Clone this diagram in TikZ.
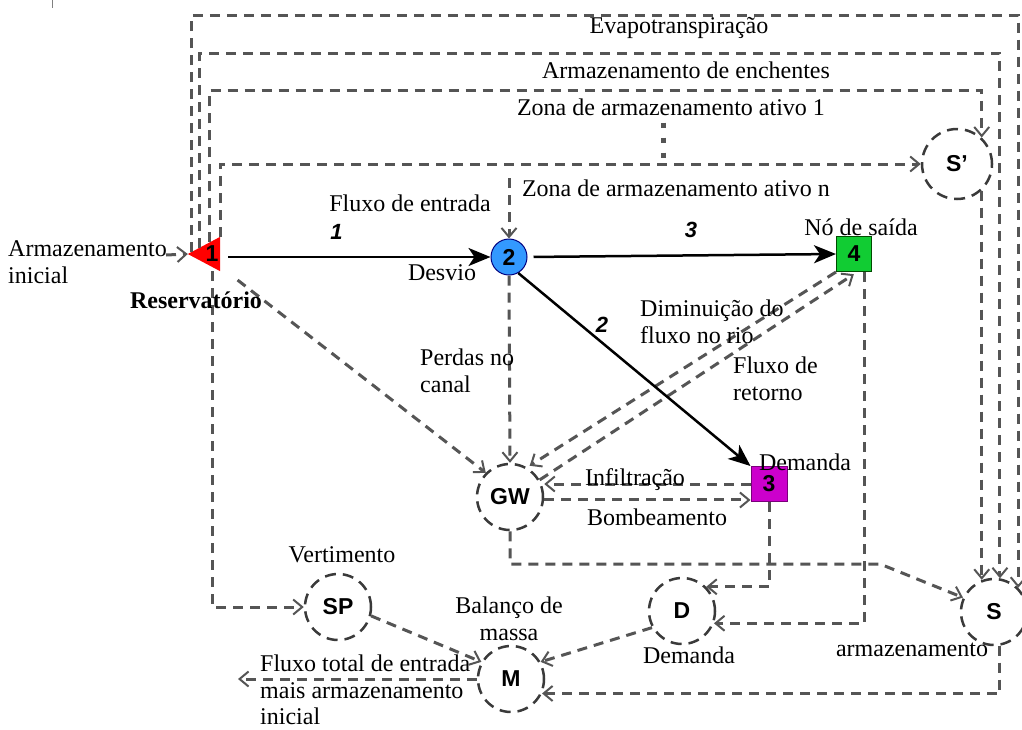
\documentclass[tikz,border=0pt]{standalone}
\usepackage{fontspec}
\setmainfont{Liberation Serif}
\setsansfont{Liberation Sans}
\usetikzlibrary{arrows.meta,calc}
\definecolor{dgray}{HTML}{555555}
\definecolor{cgray}{HTML}{3A3A3A}
\definecolor{nblue}{HTML}{3399FF}
\definecolor{ngreen}{HTML}{11CC33}
\definecolor{nmag}{HTML}{CC00CC}
\definecolor{nred}{HTML}{FF0000}
\begin{document}
\begin{tikzpicture}[x=1pt,y=-1pt,
 txt/.style={font=\fontsize{24}{26.5}\selectfont, inner sep=0pt, text=black},
 elab/.style={font=\sffamily\bfseries\itshape\fontsize{22}{22}\selectfont, inner sep=0pt},
 nlab/.style={font=\sffamily\bfseries\fontsize{23}{23}\selectfont},
 dnode/.style={circle, draw=cgray, line width=2.5pt, dash pattern=on 11pt off 7pt, minimum size=66pt, inner sep=0pt, nlab},
 dflow/.style={draw=dgray, line width=3pt, dash pattern=on 10pt off 7pt, -{Straight Barb[length=9pt,width=15pt,line width=2pt]}},
 sflow/.style={draw=black, line width=2.5pt, -{Stealth[length=22pt,width=18pt,inset=6pt]}},
]
\useasboundingbox (0,0) rectangle (1022,729);
\fill[white] (0,0) rectangle (1022,729);
\draw[gray, line width=1pt] (52,0) -- (52,8);

% nodes
\node[minimum width=32pt, minimum height=34pt, inner sep=0pt] (r1) at (204,254) {};
\fill[nred] (r1.west) -- (r1.north east) -- (r1.south east) -- cycle;
\node[nlab] (r1t) at (212,254) {1};
\node[circle, fill=nblue, draw=blue!50!black, line width=1pt, minimum size=36pt, inner sep=0pt, nlab] (n2) at (509,257) {2};
\node[rectangle, fill=ngreen, draw=green!30!black, line width=1pt, minimum width=35pt, minimum height=35pt, inner sep=0pt, nlab] (n4) at (854,254) {4};
\node[rectangle, fill=nmag, draw=nmag!60!black, line width=1pt, minimum width=36pt, minimum height=35pt, inner sep=0pt, nlab] (n3) at (769,484) {3};
\node[dnode] (GW) at (510,497) {GW};
\node[dnode] (SP) at (338,607) {SP};
\node[dnode] (M) at (511,679) {M};
\node[dnode] (D) at (682,611) {D};
\node[dnode] (S) at (994,612) {S};
\node[dnode, minimum size=70pt] (Sp) at (957,164) {S’};

% helper coordinates
\coordinate (top1) at (0,15);
\coordinate (top2) at (0,53);
\coordinate (top3) at (0,90);
\coordinate (ai) at (166,255);
\coordinate (fe) at (509,178);
\coordinate (g1) at (880,564);
\coordinate (fo) at (238,679);

% top loops
\draw[dflow] ([shift={(4pt,2pt)}]r1.west) |- (S.45 |- top1) -- (S.45);
\draw[dflow] ([shift={(12pt,6.4pt)}]r1.west) |- (S.80 |- top2) -- (S.80);
\draw[dflow] ([shift={(22pt,11.7pt)}]r1.west) |- (Sp.47 |- top3) -- (Sp.47);
\draw[dflow] (r1.north east) |- (Sp.west);
\draw[dflow] (Sp.-47) -- (Sp.-47 |- S.110);
\draw[dgray, line width=5pt, dash pattern=on 5pt off 10pt] (663,122.5) -- (663,158);

% other dashed flows
\draw[dflow] (ai) -- (r1.west);
\draw[dflow] ([xshift=8pt]r1.south) |- (SP.west);
\draw[dflow, shorten <=22pt] (r1) -- (GW.135);
\draw[dflow] (fe) -- (n2.north);
\draw[dflow] (n2.south) -- (GW.north);
\draw[dflow, shorten >=3pt] (n4.south west) -- (GW.60);
\draw[dflow, shorten >=4pt] (GW.30) -- (n4.-80);
\draw[dflow] (n3.west) -- (GW.east |- n3.west);
\draw[dflow] (GW.-5) -- (GW.-5 -| n3.west);
\draw[dflow] (GW.south) |- (g1) -- (S.155);
\draw[dflow] (n3.south) |- (D.45);
\draw[dflow] (n4.-60) |- (D.-21);
\draw[dflow] (D.209) -- (M.30);
\draw[dflow] (SP.-15) -- (M.150);
\draw[dflow] (S.-80) |- (M.-25);
\draw[dflow] (M.west) -- (fo);

% solid flows
\draw[sflow, shorten <=8pt] (r1.east |- n2) -- node[elab, above=16pt, pos=0.43]{1} (n2.west);
\draw[sflow, shorten <=6pt] (n2.east) -- node[elab, above=16pt, pos=0.53]{3} (n4.west);
\draw[sflow] (n2.-60) -- (n3.north west);
\node[elab] (l2) at (602,325) {2};

% texts
\node[txt] (tEv) at (679,28) {Evapotranspiração};
\node[txt] (tAe) at (686,70) {Armazenamento de enchentes};
\node[txt] (tZ1) at (671,107) {Zona de armazenamento ativo 1};
\node[txt] (tZn) at (676,188) {Zona de armazenamento ativo n};
\node[txt] (tFe) at (410,203) {Fluxo de entrada};
\node[txt] (tDe) at (442,273) {Desvio};
\node[txt] (tNs) at (861,227) {Nó de saída};
\node[txt, align=left, anchor=west] (tAi) at (8,262) {Armazenamento\\inicial};
\node[txt, font=\bfseries\fontsize{24}{26.5}\selectfont] (tRe) at (196,300) {Reservatório};
\node[txt, align=left, anchor=west] (tPc) at (420,371) {Perdas no\\canal};
\node[txt, align=left, anchor=west] (tDf) at (640,322) {Diminuição do\\fluxo no rio};
\node[txt, align=left, anchor=west] (tFr) at (733,379) {Fluxo de\\retorno};
\node[txt] (tD3) at (805,462) {Demanda};
\node[txt] (tIn) at (635,480) {Infiltração};
\node[txt] (tBo) at (657,517) {Bombeamento};
\node[txt] (tVe) at (342,555) {Vertimento};
\node[txt, align=center] (tBm) at (509,619) {Balanço de\\massa};
\node[txt] (tDD) at (689,655) {Demanda};
\node[txt] (tAr) at (912,650) {armazenamento};
\node[txt, align=left, anchor=west] (tFt) at (260,690) {Fluxo total de entrada\\mais armazenamento\\inicial};
\end{tikzpicture}
\end{document}
